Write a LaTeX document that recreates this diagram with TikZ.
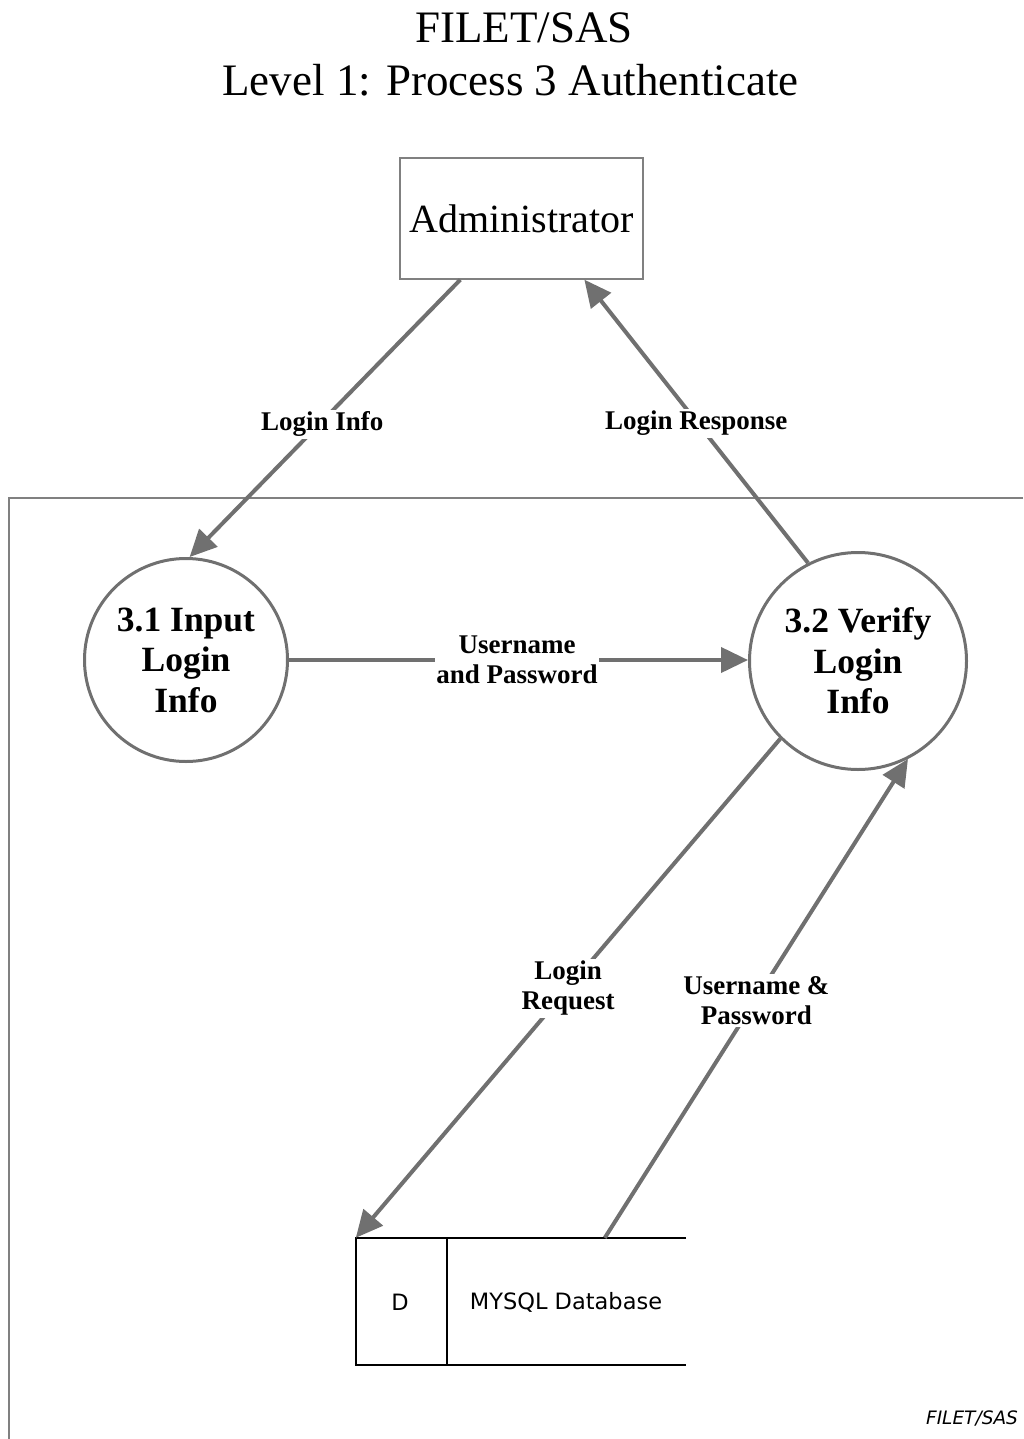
\documentclass[tikz,border=0pt]{standalone}
\usepackage{fontspec}
\setmainfont{Liberation Serif}
\setsansfont{DejaVu Sans}
\usetikzlibrary{arrows.meta,calc}
\definecolor{flowgray}{RGB}{112,112,112}
\definecolor{framegray}{RGB}{128,128,128}
\begin{document}
\begin{tikzpicture}[x=1pt,y=1pt,
  process/.style={circle,draw=flowgray,line width=3pt,minimum size=#1,inner sep=0pt,
    align=center,font=\fontsize{35.5}{40.5}\selectfont\bfseries},
  entity/.style={rectangle,draw=framegray,line width=1.3pt,minimum width=243pt,minimum height=121pt,
    font=\fontsize{40}{46}\selectfont},
  flow/.style={draw=flowgray,line width=4pt,-{Triangle[length=27pt,width=25pt]}},
  flowlabel/.style={fill=white,inner sep=2pt,align=center,text=black,
    font=\fontsize{27}{30}\selectfont\bfseries},
  storeline/.style={draw=black,line width=2pt},
  heading/.style={font=\fontsize{45}{52}\selectfont},
]
\useasboundingbox (0,0) rectangle (1023,-1439);

% heading
\node[heading] (title) at (524,-28) {FILET/SAS};
\node[heading] (subtitle) at (510.5,-80) {Level 1: Process 3 Authenticate};

% external entity
\node[entity] (admin) at (521.5,-218.5) {Administrator};

% process boundary, open to the right and bottom
\draw[framegray,line width=1.3pt] (1023,-498) -- (9,-498) -- (9,-1439);

% processes
\node[process=203pt] (p31) at (186,-660) {3.1 Input\\Login\\Info};
\node[process=217pt] (p32) at (858,-661) {3.2 Verify\\Login\\Info};

% data store
\node[minimum width=330pt,minimum height=127pt,inner sep=0pt] (store) at (521,-1301.5) {};
\draw[storeline] (store.north east) -- (store.north west) -- (store.south west) -- (store.south east);
\coordinate (divtop) at ($(store.north west)+(91,0)$);
\coordinate (divbot) at ($(store.south west)+(91,0)$);
\draw[storeline,line width=1.6pt] (divtop) -- (divbot);
\node[font=\sffamily\fontsize{22.5}{26}\selectfont] (storeid) at (400,-1302) {D};
\node[font=\sffamily\fontsize{22.5}{26}\selectfont] (storename) at (566,-1302) {MYSQL Database};

% data flows
\coordinate (adminout) at ($(admin.south west)+(61,0)$);
\coordinate (adminin) at ($(admin.south west)+(185,0)$);
\coordinate (storeout) at ($(store.north west)+(249,0)$);

\draw[flow] (adminout) -- (p31.88) node[flowlabel,pos=0.51,yshift=-3pt] (lbl1) {Login Info};
\draw[flow] (p32.117) -- (adminin) node[flowlabel,pos=0.5,yshift=-2pt] (lbl2) {Login Response};
\draw[flow] (p31.east) -- (p31.east -| p32.west) node[flowlabel,pos=0.497,inner sep=1pt] (lbl3) {Username\\and Password};
\draw[flow] (p32.225) -- (store.north west) node[flowlabel,pos=0.5] (lbl4) {Login\\Request};
\draw[flow] (storeout) -- (p32.297) node[flowlabel,pos=0.5,yshift=-2pt] (lbl5) {Username \&\\Password};

% footer
\node[font=\sffamily\itshape\fontsize{18.5}{22}\selectfont] (footer) at (972,-1418) {FILET/SAS};
\end{tikzpicture}
\end{document}
